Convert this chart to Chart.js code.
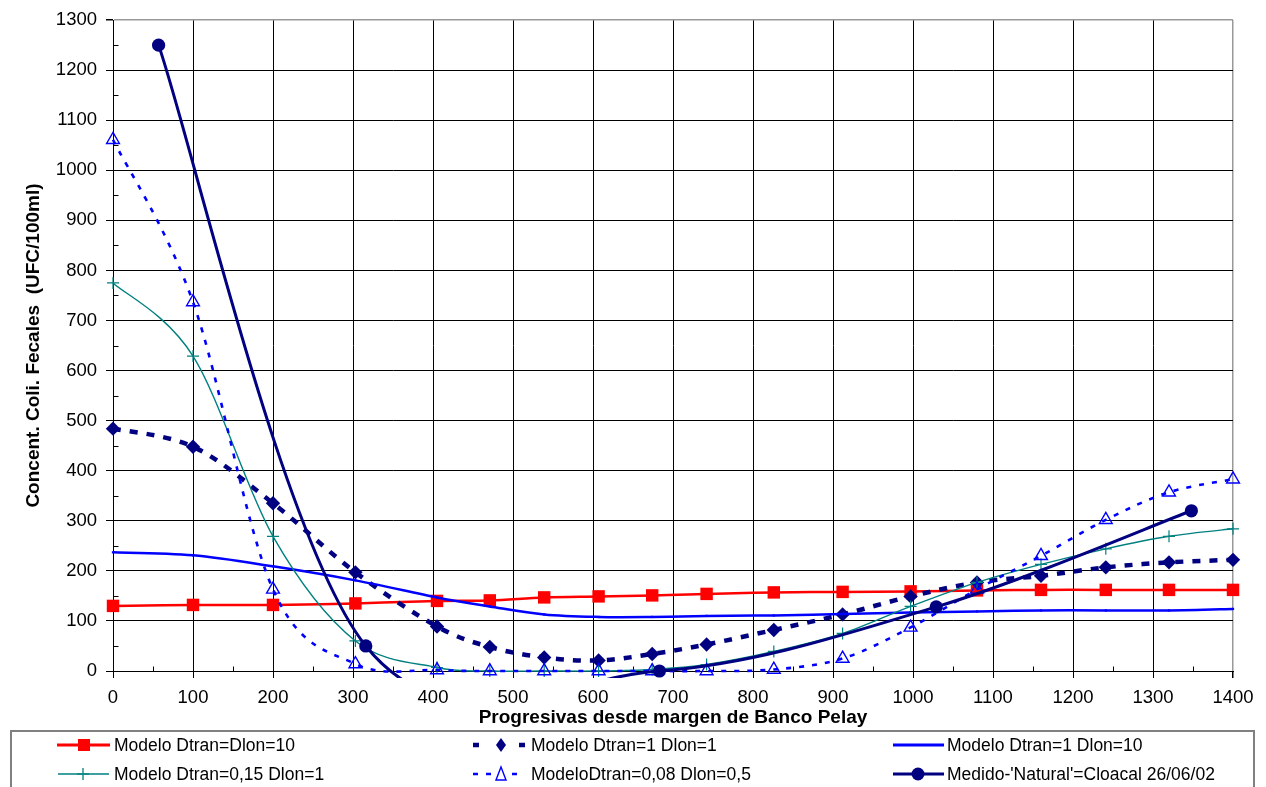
<!DOCTYPE html>
<html>
<head>
<meta charset="utf-8">
<script src="https://cdn.jsdelivr.net/npm/chart.js@4.4.1/dist/chart.umd.min.js"></script>
<style>
  html, body { margin: 0; padding: 0; background: #fff; }
  #wrap { position: relative; width: 1266px; height: 787px; overflow: hidden; }
  #chart { position: absolute; left: 0; top: 0; }
  #legendBox { position: absolute; left: 10px; top: 730px; width: 1245px; height: 90px; border: 2px solid #808080; box-sizing: border-box; }
  #legendSvg { position: absolute; left: 0; top: 0; }
  .lg { position: absolute; font-family: 'Liberation Sans', Arial, sans-serif; font-size: 17.5px; line-height: 20px; color: #000; white-space: pre; }
</style>
</head>
<body>
<div id="wrap">
  <canvas id="chart" width="1266" height="787"></canvas>
  <div id="legendBox"></div>
  <svg id="legendSvg" width="1266" height="787" xmlns="http://www.w3.org/2000/svg"></svg>
</div>
<script>
// ---------- data ----------
const progresivas = [0, 100, 200, 303, 405, 471, 539, 607, 674, 742, 826, 912, 997, 1080, 1160, 1241, 1320, 1400];
const modeloDtranDlon10 = [130, 132, 132, 135, 140, 141, 147, 149, 151, 154, 157, 158, 159, 161, 162, 162, 162, 162];
const modeloDtran1Dlon1 = [484, 448, 335, 197, 89, 48, 27, 21, 34, 53, 82, 113, 149, 177, 190, 207, 217, 222];
const modeloDtran1Dlon10 = [237, 231, 209, 181, 147, 129, 113, 108, 108, 110, 111, 114, 117, 119, 121, 121, 121, 124];
const modeloDtran015Dlon1 = [775, 629, 269, 60, 7, 0, 0, 0, 3, 13, 39, 75, 129, 177, 213, 244, 269, 284];
const modeloDtran008Dlon05 = [1061, 737, 163, 14, 2, 0, 0, 0, 0, 0, 3, 25, 87, 163, 230, 302, 357, 383];
const medidoX = [57, 316, 683, 1029, 1348];
const medidoY = [1250, 50, 0, 128, 320];

const seriesNames = [
  'Modelo Dtran=Dlon=10',
  'Modelo Dtran=1 Dlon=1',
  'Modelo Dtran=1 Dlon=10',
  'Modelo Dtran=0,15 Dlon=1',
  'ModeloDtran=0,08 Dlon=0,5',
  "Medido-'Natural'=Cloacal 26/06/02"
];
const xTitle = 'Progresivas desde margen de Banco Pelay';
const yTitle = 'Concent. Coli. Fecales  (UFC/100ml)';
const xMin = 0, xMax = 1400, xStep = 100;
const yMin = 0, yMax = 1300, yStep = 100;
const minorXTicks = [50, 150, 250, 350, 450, 550, 650, 750, 850, 950, 1050, 1150, 1250, 1350];
const minorYTicks = [50, 150, 250, 350, 450, 550, 650, 750, 850, 950, 1050, 1150, 1250];

const pts = (xs, ys) => xs.map((x, i) => ({ x: x, y: ys[i] }));

const FONT = "'Liberation Sans', Arial, sans-serif";
Chart.defaults.font.family = FONT;
Chart.defaults.color = '#000';

const CLIP = { left: 10, top: 10, right: 10, bottom: 7 };

const datasets = [
  {
    label: seriesNames[0], data: pts(progresivas, modeloDtranDlon10),
    borderColor: '#FF0000', backgroundColor: '#FF0000', borderWidth: 2.5,
    pointStyle: 'rect', pointRadius: 8.8, pointBorderWidth: 0, order: 6
  },
  {
    label: seriesNames[1], data: pts(progresivas, modeloDtran1Dlon1),
    borderColor: '#000080', backgroundColor: '#000080', borderWidth: 4.5, borderDash: [8, 9],
    pointStyle: 'rectRot', pointRadius: 7.2, pointBorderWidth: 0, order: 5
  },
  {
    label: seriesNames[2], data: pts(progresivas, modeloDtran1Dlon10),
    borderColor: '#0000FF', backgroundColor: '#0000FF', borderWidth: 2.5,
    pointStyle: 'rect', pointRadius: 1.6, pointBorderWidth: 0, order: 4
  },
  {
    label: seriesNames[3], data: pts(progresivas, modeloDtran015Dlon1),
    borderColor: '#008080', backgroundColor: '#008080', borderWidth: 1.4,
    pointStyle: 'cross', pointRadius: 6, pointBorderWidth: 1.2, pointBorderColor: '#008080', order: 3
  },
  {
    label: seriesNames[4], data: pts(progresivas, modeloDtran008Dlon05),
    borderColor: '#0000FF', backgroundColor: 'rgba(0,0,0,0)', borderWidth: 2.6, borderDash: [5, 8],
    pointStyle: 'triangle', pointRadius: 7.4, pointBorderWidth: 1.4, pointBorderColor: '#0000FF',
    pointBackgroundColor: 'rgba(0,0,0,0)', order: 2
  },
  {
    label: seriesNames[5], data: pts(medidoX, medidoY),
    borderColor: '#000080', backgroundColor: '#000080', borderWidth: 3,
    pointStyle: 'circle', pointRadius: 6.6, pointBorderWidth: 0, order: 1
  }
].map(d => Object.assign(d, { tension: 0.4, capBezierPoints: false, clip: CLIP }));

// Excel-style smoothed lines: Catmull-Rom control points (1/6 of neighbour span),
// computed from the pixel positions the library's scales gave each point.
const excelSmoothPlugin = {
  id: 'excelSmooth',
  beforeDatasetDraw(chart, args) {
    const meta = args.meta;
    const p = meta.data;
    const n = p.length;
    for (let i = 0; i < n; i++) {
      const prev = p[Math.max(i - 1, 0)], next = p[Math.min(i + 1, n - 1)];
      const dx = (next.x - prev.x) / 6, dy = (next.y - prev.y) / 6;
      p[i].cp1x = p[i].x - dx; p[i].cp1y = p[i].y - dy;
      p[i].cp2x = p[i].x + dx; p[i].cp2y = p[i].y + dy;
    }
    if (meta.dataset) {
      meta.dataset._pointsUpdated = true;
      meta.dataset._path = undefined;
    }
  }
};

const minorTicksPlugin = {
  id: 'minorTicks',
  beforeDatasetsDraw(chart) {
    const ctx = chart.ctx, xs = chart.scales.x, ys = chart.scales.y;
    const x0 = Math.round(xs.getPixelForValue(xMin)) + 0.5;
    const y0 = Math.round(ys.getPixelForValue(yMin)) + 0.5;
    ctx.save();
    ctx.strokeStyle = '#000';
    ctx.lineWidth = 1;
    ctx.beginPath();
    minorYTicks.forEach(v => {
      const py = Math.round(ys.getPixelForValue(v)) + 0.5;
      ctx.moveTo(x0, py); ctx.lineTo(x0 + 5, py);
    });
    minorXTicks.forEach(v => {
      const px = Math.round(xs.getPixelForValue(v)) + 0.5;
      ctx.moveTo(px, y0); ctx.lineTo(px, y0 - 5);
    });
    ctx.stroke();
    ctx.restore();
  }
};

new Chart(document.getElementById('chart'), {
  type: 'line',
  data: { datasets: datasets },
  options: {
    responsive: false,
    animation: false,
    events: [],
    layout: { padding: { left: 0, top: 20, right: 33, bottom: 57 } },
    plugins: { legend: { display: false }, tooltip: { enabled: false } },
    elements: { line: { fill: false } },
    scales: {
      x: {
        type: 'linear', min: xMin, max: xMax,
        ticks: { stepSize: xStep, padding: 9, font: { size: 18.5 }, color: '#000', maxRotation: 0, callback: v => String(v) },
        grid: {
          color: c => (c.tick && c.tick.value === xMax) ? '#999' : '#000',
          lineWidth: c => (c.tick && c.tick.value === xMax) ? 1.5 : 1,
          tickLength: 7, tickColor: '#000', drawTicks: true
        },
        border: { display: true, color: '#000', width: 1 },
        title: { display: true, text: xTitle, font: { size: 19, weight: 'bold', lineHeight: 1.2 }, padding: { top: 0, bottom: 1 }, color: '#000' },
        afterFit: s => { s.height = 59; }
      },
      y: {
        type: 'linear', min: yMin, max: yMax,
        ticks: { stepSize: yStep, padding: 9, font: { size: 18.5 }, color: '#000', callback: v => String(v) },
        grid: {
          color: c => (c.tick && c.tick.value === yMax) ? '#999' : '#000',
          lineWidth: c => (c.tick && c.tick.value === yMax) ? 1.5 : 1,
          tickLength: 7, tickColor: '#000', drawTicks: true
        },
        border: { display: true, color: '#000', width: 1 },
        title: { display: true, text: yTitle, font: { size: 19, weight: 'bold', lineHeight: 1.2 }, padding: { top: 22, bottom: 0 }, color: '#000' },
        afterFit: s => { s.width = 113; }
      }
    }
  },
  plugins: [minorTicksPlugin, excelSmoothPlugin]
});

// ---------- legend (HTML text + SVG symbols) ----------
const svg = document.getElementById('legendSvg');
const NS = 'http://www.w3.org/2000/svg';
function el(tag, attrs) {
  const e = document.createElementNS(NS, tag);
  for (const k in attrs) e.setAttribute(k, attrs[k]);
  svg.appendChild(e);
  return e;
}
const rowY = [745, 774];
const textX = [114, 531, 947];
// row 1
el('line', { x1: 57, y1: rowY[0], x2: 110, y2: rowY[0], stroke: '#FF0000', 'stroke-width': 3 });
el('rect', { x: 78, y: rowY[0] - 6, width: 12, height: 12, fill: '#FF0000' });
el('line', { x1: 473, y1: rowY[0], x2: 525, y2: rowY[0], stroke: '#000080', 'stroke-width': 4.5, 'stroke-dasharray': '6 40' });
el('polygon', { points: `${501 - 5},${rowY[0]} ${501},${rowY[0] - 7} ${501 + 5},${rowY[0]} ${501},${rowY[0] + 7}`, fill: '#000080' });
el('line', { x1: 893, y1: rowY[0], x2: 944, y2: rowY[0], stroke: '#0000FF', 'stroke-width': 3 });
// row 2
el('line', { x1: 58, y1: rowY[1], x2: 109, y2: rowY[1], stroke: '#008080', 'stroke-width': 1.5 });
el('line', { x1: 77, y1: rowY[1], x2: 89, y2: rowY[1], stroke: '#008080', 'stroke-width': 1.3 });
el('line', { x1: 83, y1: rowY[1] - 6, x2: 83, y2: rowY[1] + 6, stroke: '#008080', 'stroke-width': 1.3 });
el('line', { x1: 473, y1: rowY[1], x2: 525, y2: rowY[1], stroke: '#0000FF', 'stroke-width': 2.6, 'stroke-dasharray': '5 8' });
el('polygon', { points: `${501 - 5},${rowY[1] + 6} ${501},${rowY[1] - 7} ${501 + 5},${rowY[1] + 6}`, fill: '#fff', stroke: '#0000FF', 'stroke-width': 1.4 });
el('line', { x1: 893, y1: rowY[1], x2: 944, y2: rowY[1], stroke: '#000080', 'stroke-width': 3 });
el('circle', { cx: 918, cy: rowY[1], r: 6.5, fill: '#000080' });

const wrap = document.getElementById('wrap');
seriesNames.forEach((name, i) => {
  const d = document.createElement('div');
  d.className = 'lg';
  d.textContent = name;
  d.style.left = textX[i % 3] + 'px';
  d.style.top = (rowY[Math.floor(i / 3)] - 10) + 'px';
  wrap.appendChild(d);
});
</script>
</body>
</html>
